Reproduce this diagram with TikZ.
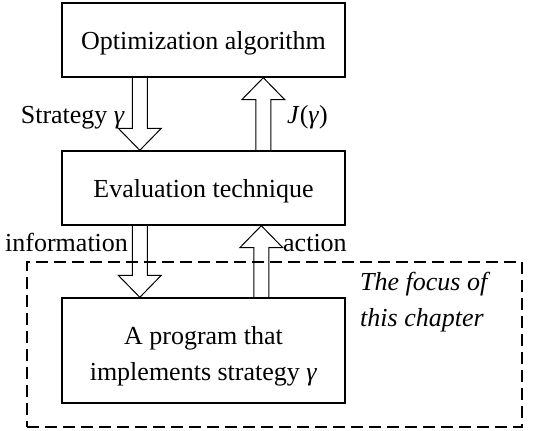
\documentclass[tikz,border=0pt]{standalone}
\usepackage{fontspec}
\setmainfont{Liberation Serif}
\usetikzlibrary{calc}
\begin{document}
\begin{tikzpicture}[x=1pt,y=-1pt,
  every node/.style={font=\fontsize{26}{36}\selectfont, inner sep=0pt},
  box/.style={draw, line width=1.4pt, minimum width=283pt, text height=18pt, text depth=0pt},
  focusbox/.style={draw, line width=1.7pt, dash pattern=on 12pt off 6pt, minimum width=495pt, minimum height=165pt},
  barr/.style={draw, line width=1pt, line join=miter}]
\useasboundingbox (0,0) rectangle (541,431);
% dashed region
\node[focusbox] (focus) at (274.5,344.5) {};
% boxes
\node[box, minimum height=74pt] (opt) at (203.5,40) {Optimization algorithm};
\node[box, minimum height=74pt] (eval) at (203.5,188) {Evaluation technique};
\node[box, minimum height=105pt] (prog) at (203.5,350.5) {};
\node[align=center] (progtext) at (203.5,356) {A program that\\implements strategy \textit{γ}};
% arrow anchor points
\coordinate (s1) at ($(opt.south west)+(78.5,0)$);
\coordinate (t1) at ($(eval.north west)+(78.5,0)$);
\coordinate (s2) at ($(eval.north west)+(202,0)$);
\coordinate (t2) at ($(opt.south west)+(202,0)$);
\coordinate (s3) at ($(eval.south west)+(78.5,0)$);
\coordinate (t3) at ($(prog.north west)+(78.5,0)$);
\coordinate (s4) at ($(prog.north west)+(200,0)$);
\coordinate (t4) at ($(eval.south west)+(200,0)$);
% down arrows
\foreach \s/\t in {s1/t1, s3/t3}{
  \path[barr] ($(\s)+(-7.5,0)$) -- ($(\t)+(-7.5,-22)$) -- ($(\t)+(-21.5,-22)$) -- (\t)
     -- ($(\t)+(21.5,-22)$) -- ($(\t)+(7.5,-22)$) -- ($(\s)+(7.5,0)$);
}
% up arrows
\foreach \s/\t in {s2/t2, s4/t4}{
  \path[barr] ($(\s)+(-7.5,0)$) -- ($(\t)+(-7.5,22)$) -- ($(\t)+(-21.5,22)$) -- (\t)
     -- ($(\t)+(21.5,22)$) -- ($(\t)+(7.5,22)$) -- ($(\s)+(7.5,0)$);
}
% labels
\node[anchor=base east] (lstrat) at (125,123) {Strategy \textit{γ}};
\node[anchor=base west] (lj) at (287,123) {\textit{J}(\textit{γ})};
\node[anchor=base west] (linfo) at (5,251) {information};
\node[anchor=base west] (lact) at (283,251) {action};
\node[anchor=base west] (lfocus1) at (360,290) {\itshape The focus of};
\node[anchor=base west] (lfocus2) at (360,326) {\itshape this chapter};
\end{tikzpicture}
\end{document}
